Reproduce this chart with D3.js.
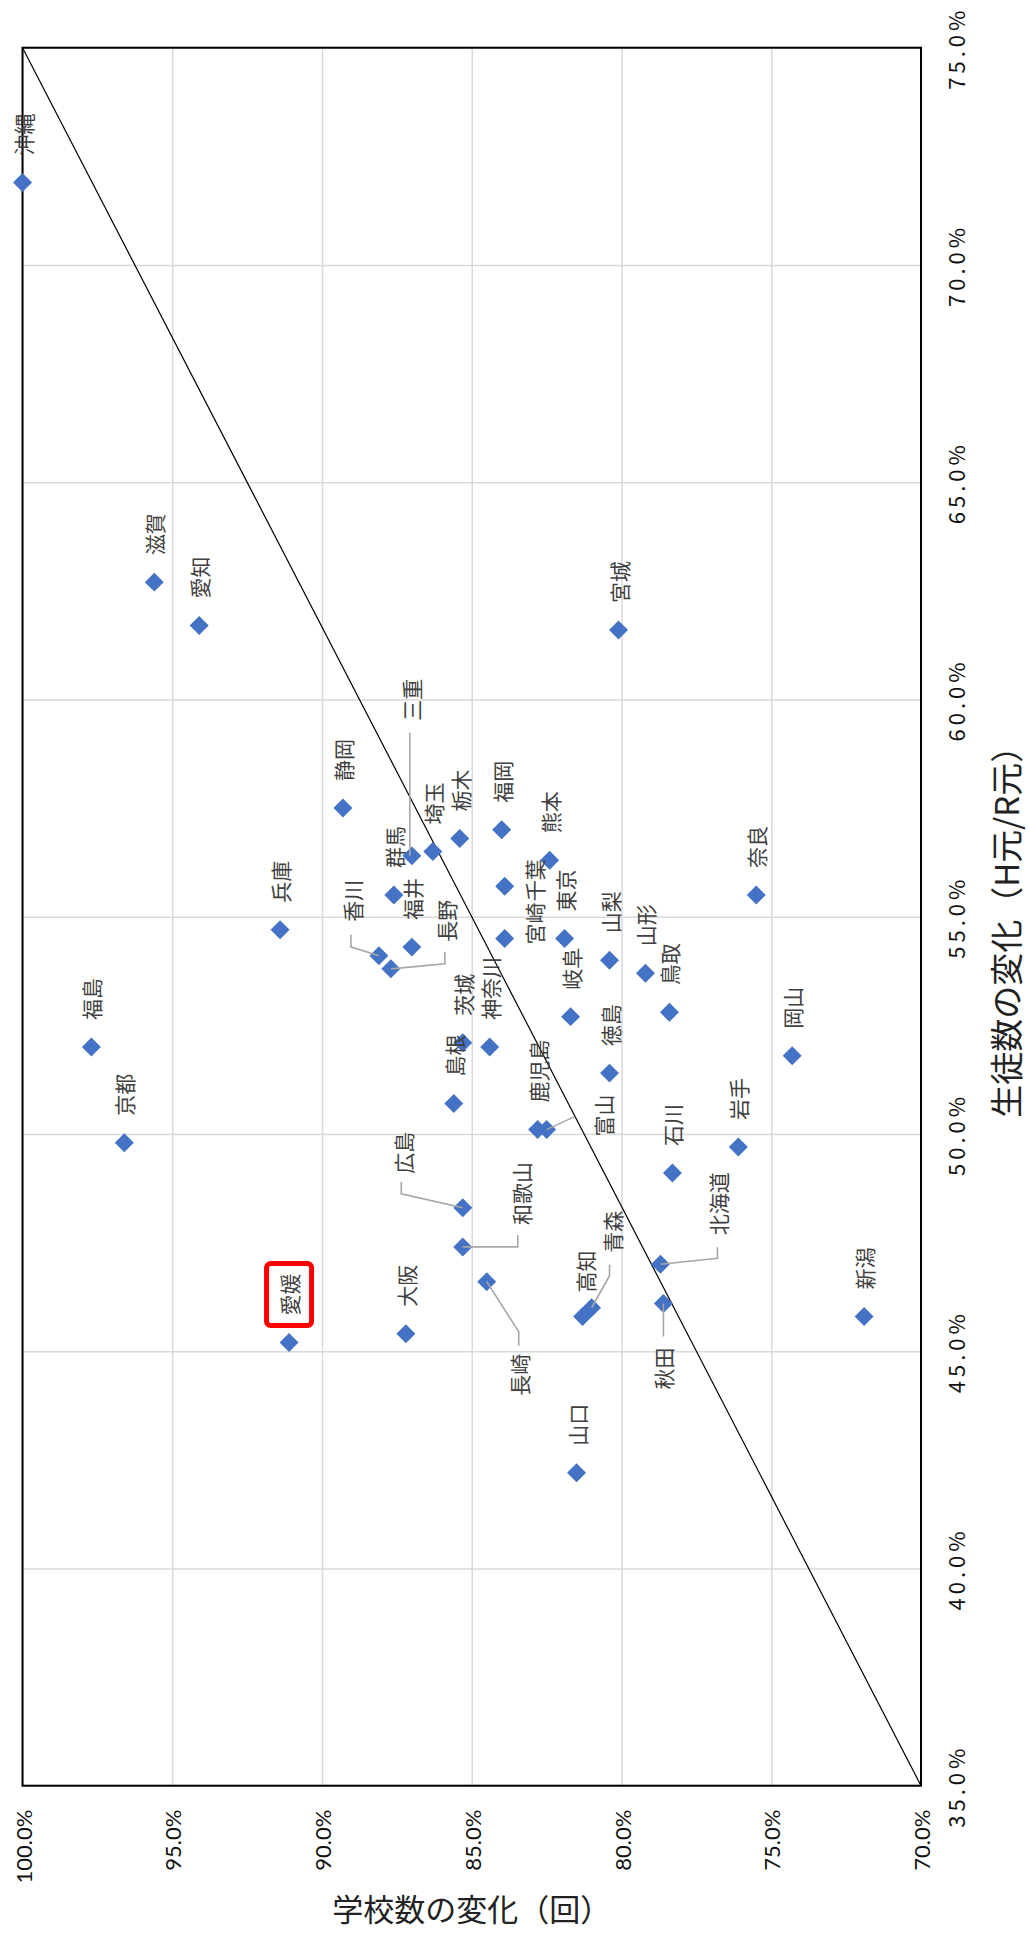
<!DOCTYPE html>
<html><head><meta charset="utf-8">
<script src="https://cdn.jsdelivr.net/npm/d3@7/dist/d3.min.js"></script>
<style>body{margin:0;background:#fff}</style>
</head><body>
<svg id="c" width="1030" height="1933"></svg>
<script>
// ---- data ----
const prefectures = ["沖縄","滋賀","愛知","宮城","静岡","兵庫","三重","群馬","埼玉","栃木","福岡","熊本","奈良","香川","福井","長野","千葉","宮崎","東京","山梨","山形","鳥取","岐阜","茨城","神奈川","島根","徳島","岡山","鹿児島","富山","福島","京都","広島","和歌山","石川","岩手","北海道","青森","高知","秋田","新潟","長崎","大阪","愛媛","山口"];
const schoolChange = [1.000,0.956,0.941,0.801,0.893,0.914,0.870,0.876,0.863,0.854,0.840,0.824,0.755,0.881,0.870,0.877,0.839,0.839,0.819,0.804,0.792,0.784,0.817,0.853,0.844,0.856,0.804,0.743,0.828,0.825,0.977,0.966,0.853,0.853,0.783,0.761,0.787,0.810,0.813,0.786,0.719,0.845,0.872,0.911,0.815];
const studentChange = [0.719,0.627,0.617,0.616,0.575,0.547,0.564,0.555,0.565,0.568,0.570,0.563,0.555,0.541,0.543,0.538,0.557,0.545,0.545,0.540,0.537,0.528,0.527,0.521,0.520,0.507,0.514,0.518,0.501,0.501,0.520,0.498,0.483,0.474,0.491,0.497,0.470,0.460,0.458,0.461,0.458,0.466,0.454,0.452,0.422];
const schoolTicks = [1.00,0.95,0.90,0.85,0.80,0.75,0.70];
const studentTicks = [0.35,0.40,0.45,0.50,0.55,0.60,0.65,0.70,0.75];
const refSchool = [1.00,0.70];
const refStudents = [0.75,0.35];
const xTitle = "生徒数の変化（H元/R元）";
const yTitle = "学校数の変化（回）";
const highlighted = "愛媛";

// ---- label layout (offsets from the marker, in px) ----
const labelLayout = {
  "富山":  {dx:56, dy:7,   leader:[[28,-13],[0,0]]},
  "北海道":{dx:58, dy:-29, leader:[[57,-17],[57,-6],[0,0]]},
  "秋田":  {dx:0,  dy:86,  leader:[[0,33],[0,0]]},
  "青森":  {dx:20, dy:-55, leader:[[18,-43],[18,-32],[0,0]]},
  "長崎":  {dx:32, dy:114, leader:[[32,64],[32,50],[0,0]]},
  "和歌山":{dx:58, dy:-22, leader:[[55,-12],[55,0],[0,0]]},
  "広島":  {dx:-60,dy:-34, leader:[[-61.5,-26],[-61.5,-14],[0,0]]},
  "香川":  {dx:-27,dy:-34, leader:[[-28,-21],[-28,-9],[0,0]]},
  "長野":  {dx:55, dy:-27, leader:[[54,-17],[54,-5],[0,0]]},
  "三重":  {dx:-1, dy:-135,leader:[[-2,-123],[-2,0]]},
  "千葉":  {dx:29, dy:15},
  "宮崎":  {dx:29, dy:6},
  "高知":  {dx:2,  dy:-24}
};

const svg = d3.select("#c");
const plot = {left:22.5, right:921, top:47.7, bottom:1785.7};
const x = d3.scaleLinear().domain([1.0,0.7]).range([plot.left, plot.right]);
const y = d3.scaleLinear().domain([0.35,0.75]).range([plot.bottom, plot.top]);
const pct = d3.format(".1%");
const CJK = "'Noto Sans CJK JP','Noto Sans CJK SC',sans-serif";

svg.append("rect").attr("width",1030).attr("height",1933).attr("fill","#fff");

// grid
svg.append("g").attr("transform",`translate(0,${plot.bottom})`)
  .call(d3.axisBottom(x).tickValues(schoolTicks).tickSize(-(plot.bottom-plot.top)).tickFormat(""))
  .call(g=>g.select(".domain").remove())
  .selectAll("line").attr("stroke","#d9d9d9").attr("stroke-width",1.5);
svg.append("g").attr("transform",`translate(${plot.right},0)`)
  .call(d3.axisRight(y).tickValues(studentTicks).tickSize(-(plot.right-plot.left)).tickFormat(""))
  .call(g=>g.select(".domain").remove())
  .selectAll("line").attr("stroke","#d9d9d9").attr("stroke-width",1.5);

// border
svg.append("rect").attr("x",plot.left).attr("y",plot.top)
  .attr("width",plot.right-plot.left).attr("height",plot.bottom-plot.top)
  .attr("fill","none").attr("stroke","#000").attr("stroke-width",2);

// reference line
svg.append("path")
  .datum(d3.zip(refSchool, refStudents))
  .attr("d", d3.line().x(d=>x(d[0])).y(d=>y(d[1])))
  .attr("stroke","#000").attr("stroke-width",1.2).attr("fill","none");

// school axis tick labels (bottom)
svg.append("g").attr("transform",`translate(0,${plot.bottom})`)
  .call(d3.axisBottom(x).tickValues(schoolTicks).tickSize(0).tickFormat(pct))
  .call(g=>g.select(".domain").remove())
  .selectAll("text")
  .attr("x",0).attr("y",0).attr("dy",null)
  .attr("transform","translate(0,24) rotate(-90)")
  .attr("text-anchor","end").attr("dominant-baseline","central")
  .attr("font-family","Lato, 'Liberation Sans', sans-serif").attr("font-size",22).attr("fill","#111");

// student axis tick labels (right)
svg.append("g").attr("transform",`translate(${plot.right},0)`)
  .call(d3.axisRight(y).tickValues(studentTicks).tickSize(0).tickFormat(pct))
  .call(g=>g.select(".domain").remove())
  .selectAll("text")
  .attr("x",0).attr("y",0).attr("dy",null)
  .attr("transform","translate(34,0) rotate(-90)")
  .attr("text-anchor","middle").attr("dominant-baseline","central")
  .attr("font-family",CJK).attr("font-size",22).attr("letter-spacing","4px").attr("fill","#111");

// axis titles
svg.append("text").text(xTitle)
  .attr("transform",`translate(1005,${(plot.top+plot.bottom)/2+7}) rotate(-90)`)
  .attr("text-anchor","middle").attr("dominant-baseline","central")
  .attr("font-family",CJK).attr("font-size",33).attr("fill","#222");
svg.append("text").text(yTitle)
  .attr("x",(plot.left+plot.right)/2).attr("y",1921)
  .attr("text-anchor","middle")
  .attr("font-family",CJK).attr("font-size",31).attr("fill","#222");

// markers
const idx = d3.range(prefectures.length);
const px = i => x(schoolChange[i]);
const py = i => y(studentChange[i]);
svg.append("g").selectAll("path").data(idx).join("path")
  .attr("d", d3.symbol(d3.symbolSquare, 180))
  .attr("transform", i=>`translate(${px(i)},${py(i)}) rotate(45)`)
  .attr("fill","#4472C4");

// leader lines
svg.append("g").selectAll("path").data(idx.filter(i=>labelLayout[prefectures[i]] && labelLayout[prefectures[i]].leader)).join("path")
  .attr("d", i=>d3.line()(labelLayout[prefectures[i]].leader.map(p=>[px(i)+p[0], py(i)+p[1]])))
  .attr("fill","none").attr("stroke","#a6a6a6").attr("stroke-width",1.6);

// labels
const lay = i => labelLayout[prefectures[i]] || {dx:0, dy:-27};
const lbl = svg.append("g");
lbl.selectAll("text").data(idx).join("text")
  .text(i=>prefectures[i])
  .attr("transform", i=>`translate(${px(i)+lay(i).dx},${py(i)+lay(i).dy}) rotate(-90)`)
  .attr("text-anchor","start").attr("dominant-baseline","central")
  .attr("font-family",CJK).attr("font-size",21).attr("fill","#404040");

// highlight box
const hi = prefectures.indexOf(highlighted);
svg.append("rect")
  .attr("x", px(hi)-22.5).attr("y", py(hi)-79)
  .attr("width",45).attr("height",62).attr("rx",4)
  .attr("fill","none").attr("stroke","#ff0000").attr("stroke-width",5);
</script>
</body></html>
